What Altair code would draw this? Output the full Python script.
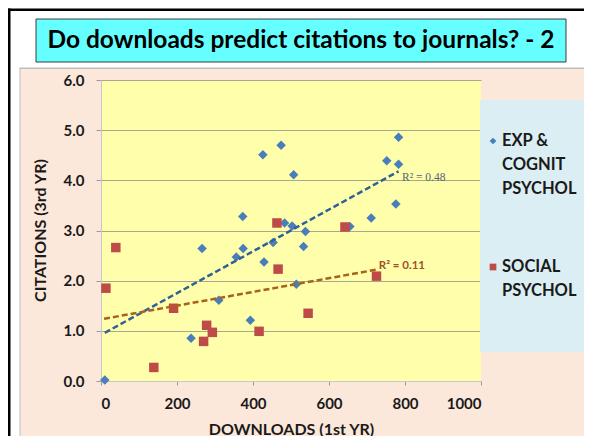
import altair as alt
import pandas as pd

# ---- data ----
series_names = ["EXP & COGNIT PSYCHOL", "SOCIAL PSYCHOL"]
legend_labels = ["EXP &\nCOGNIT\nPSYCHOL", "SOCIAL\nPSYCHOL"]

exp_downloads = [10, 237, 266, 310, 356, 374, 373, 393, 426, 429, 453, 474,
                 483, 503, 507, 514, 533, 538, 655, 711, 752, 776, 783, 783]
exp_citations = [0.02, 0.85, 2.64, 1.61, 2.47, 2.64, 3.28, 1.21, 4.51, 2.37, 2.76, 4.70,
                 3.15, 3.09, 4.11, 1.93, 2.68, 2.98, 3.08, 3.25, 4.39, 3.53, 4.32, 4.86]

soc_downloads = [13, 39, 139, 191, 270, 278, 293, 416, 463, 466, 545, 642, 725]
soc_citations = [1.85, 2.66, 0.27, 1.45, 0.79, 1.11, 0.97, 0.99, 3.15, 2.23, 1.35, 3.07, 2.09]

# trendline ends as drawn
exp_trend_x = [10, 783]
exp_trend_y = [0.96, 4.18]
soc_trend_x = [8, 725]
soc_trend_y = [1.24, 2.22]

r2_texts = ["R\u00b2 = 0.48", "R\u00b2 = 0.11"]
r2_x = [792, 731]
r2_y = [4.05, 2.30]

title_text = "Do downloads predict citations to journals? - 2"
x_ticks = [0, 200, 400, 600, 800, 1000]
y_ticks = [0, 1, 2, 3, 4, 5, 6]

# ---- styling ----
FONT = "Lato"
BLUE = "#4A7EBB"
RED = "#BE4B48"
BLUE_TREND = "#2F6196"
RED_TREND = "#A8621E"
PEACH = "#FCE8DB"
YELLOW = "#FFFFAB"
LEGEND_BG = "#DAEEF3"
CYAN = "#66FFFF"

pts = pd.DataFrame({
    "downloads": exp_downloads + soc_downloads,
    "citations": exp_citations + soc_citations,
    "series": [series_names[0]] * len(exp_downloads) + [series_names[1]] * len(soc_downloads),
})
exp_tr = pd.DataFrame({"downloads": exp_trend_x, "citations": exp_trend_y})
soc_tr = pd.DataFrame({"downloads": soc_trend_x, "citations": soc_trend_y})
r2 = pd.DataFrame({"downloads": r2_x, "citations": r2_y, "text": r2_texts})
leg = pd.DataFrame({"series": series_names, "label": legend_labels})
one = pd.DataFrame({"a": [0]})

xs = alt.Scale(domain=[0, 1000], nice=False)
ys = alt.Scale(domain=[0, 6], nice=False)
color_scale = alt.Scale(domain=series_names, range=[BLUE, RED])
shape_scale = alt.Scale(domain=series_names, range=["diamond", "square"])

X = alt.X("downloads:Q", scale=xs, axis=alt.Axis(
    values=x_ticks, format="d", grid=False, title="DOWNLOADS (1st YR)",
    labelFont=FONT, labelFontSize=15, labelFontWeight="bold", labelColor="#1a1a1a",
    titleFont=FONT, titleFontSize=16, titleFontWeight="bold", titleColor="#1a1a1a",
    titleY=48, titleBaseline="middle",
    tickColor="#9a9a9a", tickSize=4, labelPadding=11, domainColor="#c8c8c8"))
Y = alt.Y("citations:Q", scale=ys, axis=alt.Axis(
    values=y_ticks, format=".1f", grid=True, gridColor="#a8a890", gridWidth=1,
    title="CITATIONS (3rd YR)",
    labelFont=FONT, labelFontSize=15, labelFontWeight="bold", labelColor="#1a1a1a",
    titleFont=FONT, titleFontSize=16, titleFontWeight="bold", titleColor="#1a1a1a",
    titleX=-61, titleY=150, titleAngle=270, titleBaseline="middle", titleAlign="center",
    tickColor="#9a9a9a", tickSize=5, labelPadding=12, domainColor="#c8c8c8"))

# decorations outside the plot (pixel offsets from plot origin)
white_top = alt.Chart(one).mark_rect(color="white").encode(
    x=alt.value(-93), x2=alt.value(483), y=alt.value(-72), y2=alt.value(-12))
white_left = alt.Chart(one).mark_rect(color="white").encode(
    x=alt.value(-93), x2=alt.value(-81), y=alt.value(-72), y2=alt.value(356))
peach_left = alt.Chart(one).mark_rect(color="#bdbdbd").encode(
    x=alt.value(-81.5), x2=alt.value(-80.5), y=alt.value(-12), y2=alt.value(356))
peach_top = alt.Chart(one).mark_rect(color="#bdbdbd").encode(
    x=alt.value(-81.5), x2=alt.value(483), y=alt.value(-12.5), y2=alt.value(-11))
frame_left = alt.Chart(one).mark_rect(color="black").encode(
    x=alt.value(-93), x2=alt.value(-90.5), y=alt.value(-71.5), y2=alt.value(356))
frame_top = alt.Chart(one).mark_rect(color="black").encode(
    x=alt.value(-93), x2=alt.value(483), y=alt.value(-71.5), y2=alt.value(-69))
title_box = alt.Chart(one).mark_rect(fill=CYAN, stroke="#3a3a3a", strokeWidth=1).encode(
    x=alt.value(-65), x2=alt.value(465), y=alt.value(-61), y2=alt.value(-18))
title = alt.Chart(one).mark_text(
    text=title_text, font=FONT, fontSize=24.5, fontWeight="bold", color="black",
    align="center", baseline="middle").encode(x=alt.value(200), y=alt.value(-39.5))
legend_box = alt.Chart(one).mark_rect(fill=LEGEND_BG).encode(
    x=alt.value(379), x2=alt.value(483), y=alt.value(20), y2=alt.value(272))

LY = alt.Y("series:N", scale=alt.Scale(type="point", domain=series_names, range=[61, 187], padding=0), axis=None)
leg_sym = alt.Chart(leg).mark_point(filled=True, opacity=1, size=45).encode(
    x=alt.value(392), y=LY,
    color=alt.Color("series:N", scale=color_scale, legend=None),
    shape=alt.Shape("series:N", scale=shape_scale, legend=None))
leg_txt = alt.Chart(leg).mark_text(
    font=FONT, fontSize=16.5, fontWeight="bold", color="#1a1a1a", align="left",
    baseline="top", dy=-8, lineBreak="\n", lineHeight=24).encode(
    x=alt.value(401), y=LY, text="label:N")

points = alt.Chart(pts).mark_point(filled=True, opacity=1, size=90).encode(
    x=X, y=Y,
    color=alt.Color("series:N", scale=color_scale, legend=None),
    shape=alt.Shape("series:N", scale=shape_scale, legend=None))
tr1 = alt.Chart(exp_tr).mark_line(color=BLUE_TREND, strokeWidth=2.5, strokeDash=[6, 3]).encode(
    x="downloads:Q", y="citations:Q")
tr2 = alt.Chart(soc_tr).mark_line(color=RED_TREND, strokeWidth=2.5, strokeDash=[6, 3]).encode(
    x="downloads:Q", y="citations:Q")
r2a = alt.Chart(r2.iloc[[0]]).mark_text(
    font="Liberation Serif", fontSize=11.5, color="#55637a", align="left", baseline="middle").encode(
    x="downloads:Q", y="citations:Q", text="text:N")
r2b = alt.Chart(r2.iloc[[1]]).mark_text(
    font=FONT, fontSize=11.5, fontWeight="bold", color="#a0522d", align="left", baseline="middle").encode(
    x="downloads:Q", y="citations:Q", text="text:N")

main = alt.layer(points, tr1, tr2, r2a, r2b)
legend_layer = alt.layer(leg_sym, leg_txt)

chart = alt.layer(
    white_top, white_left, peach_left, peach_top, frame_left, frame_top,
    title_box, title, legend_box, main, legend_layer
).resolve_scale(y="independent").properties(
    width=380, height=301,
    padding={"left": 93, "top": 72, "right": 103, "bottom": 55},
    autosize=alt.AutoSizeParams(type="none"),
    background=PEACH,
).configure_view(fill=YELLOW, stroke=None)

chart.save("out.html", embed_options={"renderer": "svg", "actions": False})
